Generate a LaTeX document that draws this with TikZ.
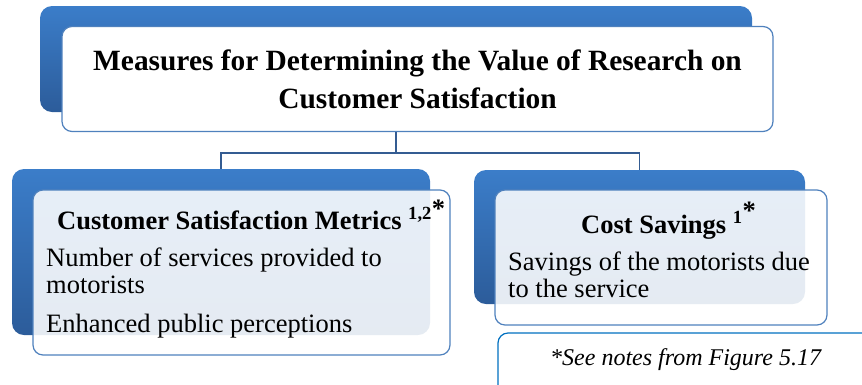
\documentclass[tikz,border=0pt]{standalone}
\usepackage{fontspec}
\setmainfont{Liberation Serif}
\usetikzlibrary{positioning}

\definecolor{backblue}{RGB}{59,125,201}
\definecolor{backdark}{RGB}{44,92,154}
\definecolor{frontline}{RGB}{79,129,189}
\definecolor{linkblue}{RGB}{52,92,146}
\definecolor{noteline}{RGB}{0,112,192}

\begin{document}
\begin{tikzpicture}[x=1pt, y=-1pt,
        back/.style={rectangle, rounded corners=12pt, top color=backblue, bottom color=backdark, inner sep=0pt},
        front/.style={rectangle, rounded corners=10pt, draw=frontline, line width=1.2pt, inner sep=0pt},
        link/.style={draw=linkblue, line width=1.8pt},
        head/.style={anchor=base west, inner sep=0pt, font=\bfseries\fontsize{26.5}{30}\selectfont},
        body/.style={anchor=base west, inner sep=0pt, font=\fontsize{26.5}{30}\selectfont}]
            \useasboundingbox (0,0) rectangle (862,384);

            % Top box:
            \node[back, minimum width=712pt, minimum height=106pt] (titleback) at (396,59) {};
            \node[front, fill=white, minimum width=711pt, minimum height=105pt, align=center,
                  font=\bfseries\fontsize{29.4}{38}\selectfont] (title) at (417.5,79) 
                  {Measures for Determining the Value of Research on\\Customer Satisfaction};

            % Child boxes:
            \node[back, minimum width=418pt, minimum height=166pt] (metricsback) at (221,252) {};
            \node[back, minimum width=331pt, minimum height=134pt] (savingsback) at (639.5,237) {};

            % Connectors:
            \draw[link] (titleback |- title.south) -- ++(0,21) coordinate (fork);
            \draw[link] (metricsback.north) |- (fork) -| (savingsback.north);

            \node[front, fill=white, fill opacity=0.88, minimum width=417pt, minimum height=165pt] (metrics) at (241.5,272.5) {};
            \node[front, fill=white, fill opacity=0.88, minimum width=332pt, minimum height=135pt] (savings) at (661,257.5) {};

            % Texts:
            \node[head] (metricshead) at (57,229) {Customer Satisfaction Metrics \textsuperscript{1,2}\raisebox{0.45em}{*}};
            \node[body] (metricsone) at (46,266) {Number of services provided to};
            \node[body] (metricstwo) at (46,293) {motorists};
            \node[body] (metricsthree) at (46,332) {Enhanced public perceptions};

            \node[head] (savingshead) at (581,233) {Cost Savings \textsuperscript{1}\raisebox{0.5em}{*}};
            \node[body] (savingsone) at (508,270) {Savings of the motorists due};
            \node[body] (savingstwo) at (508,297) {to the service};

            % Note:
            \node[rectangle, rounded corners=10pt, draw=noteline, line width=1.2pt,
                  minimum width=377pt, minimum height=67pt] (note) at (686.5,366.5) {};
            \node[anchor=base west, inner sep=0pt, font=\itshape\fontsize{24}{28}\selectfont]
                  (notetext) at (550,365) {*See notes from Figure 5.17};
        \end{tikzpicture}
\end{document}
